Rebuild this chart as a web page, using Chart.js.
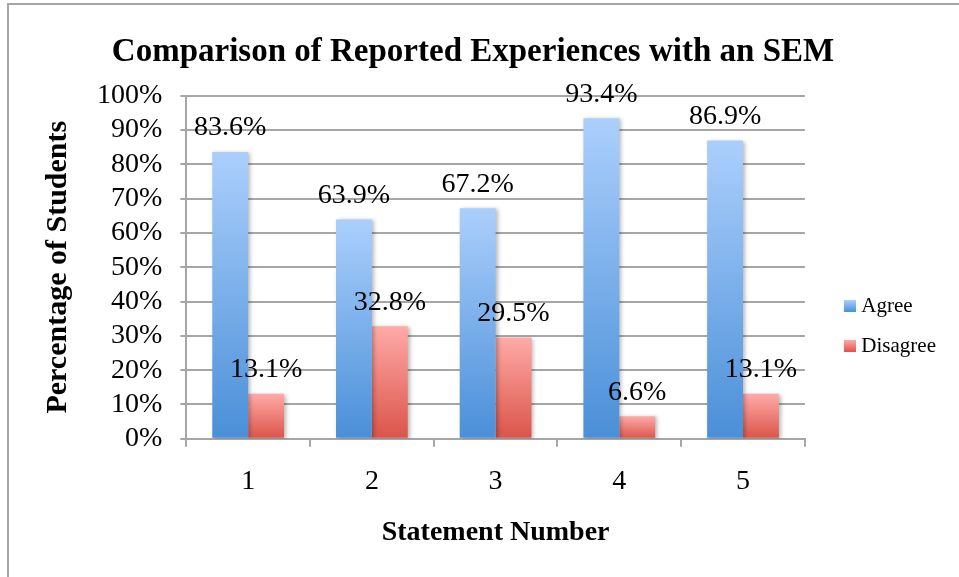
<!DOCTYPE html>
<html>
<head>
<meta charset="utf-8">
<title>Comparison of Reported Experiences with an SEM</title>
<script src="https://cdn.jsdelivr.net/npm/chart.js@4.4.0/dist/chart.umd.min.js"></script>
<style>
  html, body { margin: 0; padding: 0; background: #fff; }
  .chart-wrap { position: relative; width: 959px; height: 577px; }
  .chart-wrap .frame {
    position: absolute; left: 7px; top: 3px; right: 0; bottom: 0;
    border-top: 2px solid #a6a6a6; border-left: 2px solid #a6a6a6;
    pointer-events: none;
  }
  canvas { display: block; }
</style>
</head>
<body>
<div class="chart-wrap">
  <canvas id="chart" width="959" height="577"></canvas>
  <div class="frame"></div>
</div>
<script>
// data
const statements = ['1', '2', '3', '4', '5'];
const agree = [83.6, 63.9, 67.2, 93.4, 86.9];
const disagree = [13.1, 32.8, 29.5, 6.6, 13.1];
const yMax = 100;
const yStep = 10;

const FONT = '"Liberation Serif", "Times New Roman", serif';
const GRID = '#a6a6a6';
const BLUE = ['#abcffc', '#4a8fd8'];   // top, bottom
const RED = ['#ffaaa7', '#da5449'];

// each bar gets its own light-to-dark fill, top to bottom
function barFill(context, colors) {
  const chart = context.chart;
  if (!chart.chartArea || context.type !== 'data') return colors[1];
  const y = chart.scales.y;
  const top = y.getPixelForValue(context.raw);
  const bottom = y.getPixelForValue(0);
  const g = chart.ctx.createLinearGradient(0, top, 0, bottom);
  g.addColorStop(0, colors[0]);
  g.addColorStop(1, colors[1]);
  return g;
}

// small square swatch, drawn at the right side of a wider transparent image
function legendSwatch(colors) {
  const c = document.createElement('canvas');
  c.width = 37;
  c.height = 12;
  const x = c.getContext('2d');
  const g = x.createLinearGradient(0, 0, 0, 12);
  g.addColorStop(0, colors[0]);
  g.addColorStop(1, colors[1]);
  x.fillStyle = g;
  x.fillRect(25, 0, 12, 12);
  return c;
}
const swatches = [legendSwatch(BLUE), legendSwatch(RED)];

// soft shadow behind bars + value labels above them
const barDecor = {
  id: 'barDecor',
  beforeDatasetsDraw(chart) {
    const c = chart.ctx;
    c.save();
    c.shadowColor = 'rgba(0,0,0,0.28)';
    c.shadowBlur = 4;
    c.shadowOffsetX = 2;
    c.shadowOffsetY = 1;
  },
  afterDatasetsDraw(chart) {
    const c = chart.ctx;
    c.restore();
    c.save();
    c.font = '28px ' + FONT;
    c.fillStyle = '#000';
    c.textAlign = 'center';
    c.textBaseline = 'middle';
    chart.data.datasets.forEach(function(ds, i) {
      chart.getDatasetMeta(i).data.forEach(function(bar, j) {
        c.fillText(ds.data[j].toFixed(1) + '%', bar.x, bar.y - 24);
      });
    });
    c.restore();
  }
};

new Chart(document.getElementById('chart'), {
  type: 'bar',
  data: {
    labels: statements,
    datasets: [
      { label: 'Agree', data: agree, backgroundColor: ctx => barFill(ctx, BLUE) },
      { label: 'Disagree', data: disagree, backgroundColor: ctx => barFill(ctx, RED) }
    ]
  },
  options: {
    responsive: false,
    animation: false,
    layout: { padding: { top: 0, right: 13, bottom: 0, left: 0 } },
    datasets: { bar: { categoryPercentage: 0.58, barPercentage: 1 } },
    scales: {
      x: {
        grid: { drawOnChartArea: false, tickLength: 8, color: GRID, lineWidth: 2 },
        border: { color: GRID, width: 2 },
        ticks: { color: '#000', font: { family: FONT, size: 28 }, padding: 18 },
        title: {
          display: true,
          text: 'Statement Number',
          color: '#000',
          font: { family: FONT, size: 28, weight: 'bold' },
          padding: { top: 0, bottom: 27 }
        }
      },
      y: {
        min: 0,
        max: yMax,
        grid: { color: GRID, lineWidth: 2, tickLength: 6 },
        border: { color: GRID, width: 2 },
        ticks: {
          stepSize: yStep,
          autoSkip: false,
          color: '#000',
          font: { family: FONT, size: 28, lineHeight: 1 },
          padding: 18,
          callback: v => v + '%'
        },
        title: {
          display: true,
          text: 'Percentage of Students',
          color: '#000',
          font: { family: FONT, size: 30, weight: 'bold' },
          padding: { top: 40, bottom: 3 }
        }
      }
    },
    plugins: {
      title: {
        display: true,
        text: 'Comparison of Reported Experiences with an SEM',
        color: '#000',
        font: { family: FONT, size: 33, weight: 'bold' },
        padding: { top: 33, bottom: 23 }
      },
      legend: {
        position: 'right',
        title: { display: true, text: ' ', font: { size: 10 }, padding: { top: 63, bottom: 0 } },
        labels: {
          usePointStyle: true,
          pointStyleWidth: 27,
          padding: 19,
          color: '#000',
          font: { family: FONT, size: 21 },
          generateLabels: function(chart) {
            return chart.data.datasets.map(function(ds, i) {
              return {
                text: ds.label,
                pointStyle: swatches[i],
                fillStyle: i ? RED[1] : BLUE[1],
                strokeStyle: 'transparent',
                lineWidth: 0,
                fontColor: '#000',
                hidden: false,
                datasetIndex: i
              };
            });
          }
        }
      },
      tooltip: { enabled: false }
    }
  },
  plugins: [barDecor]
});
</script>
</body>
</html>
